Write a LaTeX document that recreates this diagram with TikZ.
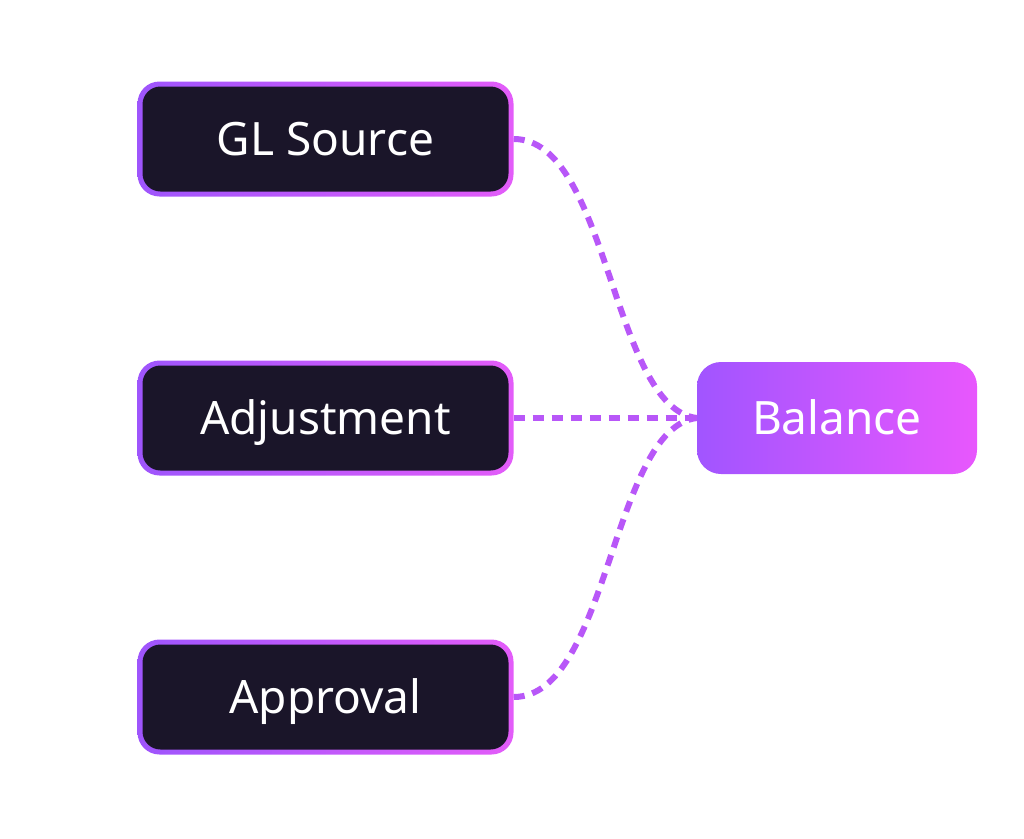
\documentclass[tikz,border=0pt]{standalone}
\usepackage{fontspec}
\setmainfont{Noto Sans}
\definecolor{gA}{HTML}{9E55FC}
\definecolor{gB}{HTML}{E35CF9}
\definecolor{bA}{HTML}{A155FF}
\definecolor{bB}{HTML}{E857FD}
\definecolor{darkfill}{HTML}{1A1529}
\definecolor{conncol}{HTML}{B857F8}
\tikzset{
  outerbox/.style={rectangle, rounded corners=22pt, minimum width=376pt, minimum height=115pt, inner sep=0pt, left color=gA, right color=gB, draw=none},
  labeltext/.style={text=white, font=\fontsize{46}{55}\selectfont, text height=33pt, text depth=0pt},
  innerbox/.style={rectangle, rounded corners=18pt, minimum width=366pt, minimum height=105pt, inner sep=0pt, fill=darkfill, labeltext},
  balbox/.style={rectangle, rounded corners=24pt, minimum width=280pt, minimum height=112pt, inner sep=0pt, left color=bA, right color=bB, labeltext},
  conn/.style={draw=conncol, line width=6pt, dash pattern=on 11pt off 8pt}
}
\begin{document}
\begin{tikzpicture}[x=1pt,y=-1pt]
\useasboundingbox (0,0) rectangle (1024,838);
\node[outerbox] (gl) at (325.5,139) {};
\node[innerbox] (glin) at (gl.center) {GL Source};
\node[outerbox] (adj) at (325.5,418) {};
\node[innerbox] (adjin) at (adj.center) {Adjustment};
\node[outerbox] (app) at (325.5,697) {};
\node[innerbox] (appin) at (app.center) {Approval};
\node[balbox] (bal) at (837,418) {Balance};
\draw[conn] (gl.east) .. controls +(95,0) and +(-85,-10) .. (bal.west);
\draw[conn] (adj.east) -- (bal.west);
\draw[conn] (app.east) .. controls +(95,0) and +(-85,10) .. (bal.west);
\end{tikzpicture}
\end{document}
